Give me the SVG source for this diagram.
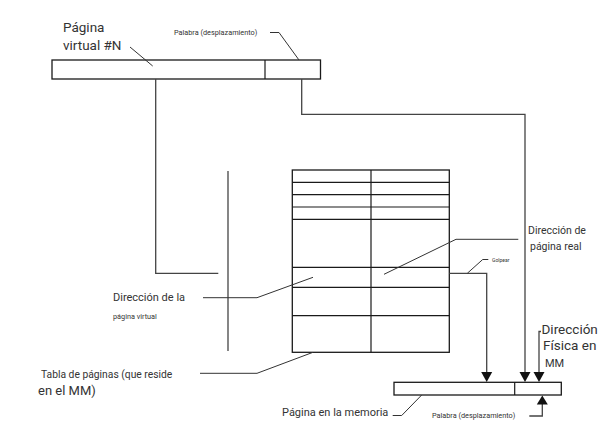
<svg xmlns="http://www.w3.org/2000/svg" width="612" height="427" viewBox="0 0 612 427">
<defs>
<style>
.box{fill:#fff;stroke:#1a1a1a;stroke-width:1.3}
.ln{fill:none;stroke:#1a1a1a;stroke-width:1.2}
.cn{fill:none;stroke:#444;stroke-width:1.3}
.ld{fill:none;stroke:#333;stroke-width:1}
.ah{fill:#111}
text{font-family:Roboto,"Liberation Sans",sans-serif;fill:#333}
</style>
<path id="down" d="M-5.5,-10 L5.5,-10 L0,0 Z"/>
</defs>
<rect width="612" height="427" fill="#fff"/>

<g id="virtual-page">
<rect class="box" x="52" y="60" width="268.5" height="19"/>
<line class="ln" x1="265" y1="60" x2="265" y2="79"/>
</g>

<g id="page-table">
<rect class="box" x="292.3" y="170" width="157" height="182.3"/>
<line class="ln" x1="371" y1="170" x2="371" y2="352.3"/>
<line class="ln" x1="292.3" y1="182.3" x2="449.3" y2="182.3"/>
<line class="ln" x1="292.3" y1="194.7" x2="449.3" y2="194.7"/>
<line class="ln" x1="292.3" y1="207" x2="449.3" y2="207"/>
<line class="ln" x1="292.3" y1="219.3" x2="449.3" y2="219.3"/>
<line class="ln" x1="292.3" y1="267.3" x2="449.3" y2="267.3"/>
<line class="ln" x1="292.3" y1="287.3" x2="449.3" y2="287.3"/>
<line class="ln" x1="292.3" y1="315.7" x2="449.3" y2="315.7"/>
</g>

<g id="memory-page">
<rect class="box" x="394" y="382.3" width="167.3" height="12.7"/>
<line class="ln" x1="514.7" y1="382.3" x2="514.7" y2="395"/>
</g>

<g id="connectors">
<line class="cn" x1="228" y1="171" x2="228" y2="351"/>
<polyline class="cn" points="155.7,79 155.7,273.3 218.3,273.3"/>
<polyline class="cn" points="301.7,79 301.7,114.3 525,114.3 525,374"/>
<use href="#down" class="ah" x="525" y="382"/>
<polyline class="cn" points="449.3,273.3 486.7,273.3 486.7,374"/>
<use href="#down" class="ah" x="486.7" y="382"/>
<polyline class="cn" points="541,331.5 539,331.5 539,374"/>
<use href="#down" class="ah" x="539" y="382"/>
<polyline class="cn" points="529.3,416 542.3,416 542.3,403"/>
<path class="ah" d="M536.8,404.5 L547.8,404.5 L542.3,395.5 Z"/>
<!-- leaders -->
<polyline class="ld" points="130,47 152.7,66"/>
<polyline class="ld" points="270,32.5 279,32.5 299,60"/>
<polyline class="ld" points="203,297.7 257,297.7 313,277.3"/>
<polyline class="ld" points="384,274.3 456,239.3 518.3,239.3"/>
<polyline class="ld" points="467.3,273.3 482.7,259.5 488.3,259.5"/>
<polyline class="ld" points="200,373.3 257,373.3 313,352.3"/>
<polyline class="ld" points="392.7,415.5 401.7,415.5 421.7,395"/>
</g>

<g id="labels">
<text x="63" y="32" font-size="13.5">Página</text>
<text x="63" y="50" font-size="13.5">virtual #N</text>
<text x="174" y="34.5" font-size="7.3">Palabra (desplazamiento)</text>
<text x="528" y="233.5" font-size="10.5">Dirección de</text>
<text x="530" y="250" font-size="10.5">página real</text>
<text x="492" y="262" font-size="5" fill="#666">Golpear</text>
<text x="113" y="301" font-size="11">Dirección de la</text>
<text x="113" y="318.5" font-size="7.3" fill="#333">página virtual</text>
<text x="41" y="377.5" font-size="10.3">Tabla de páginas (que reside</text>
<text x="38" y="394.5" font-size="13">en el MM)</text>
<text x="541.5" y="333.5" font-size="13.5">Dirección</text>
<text x="543" y="350" font-size="13.5">Física en</text>
<text x="545" y="367" font-size="11">MM</text>
<text x="282" y="416" font-size="11">Página en la memoria</text>
<text x="432" y="417.5" font-size="7.3">Palabra (desplazamiento)</text>
</g>
</svg>
